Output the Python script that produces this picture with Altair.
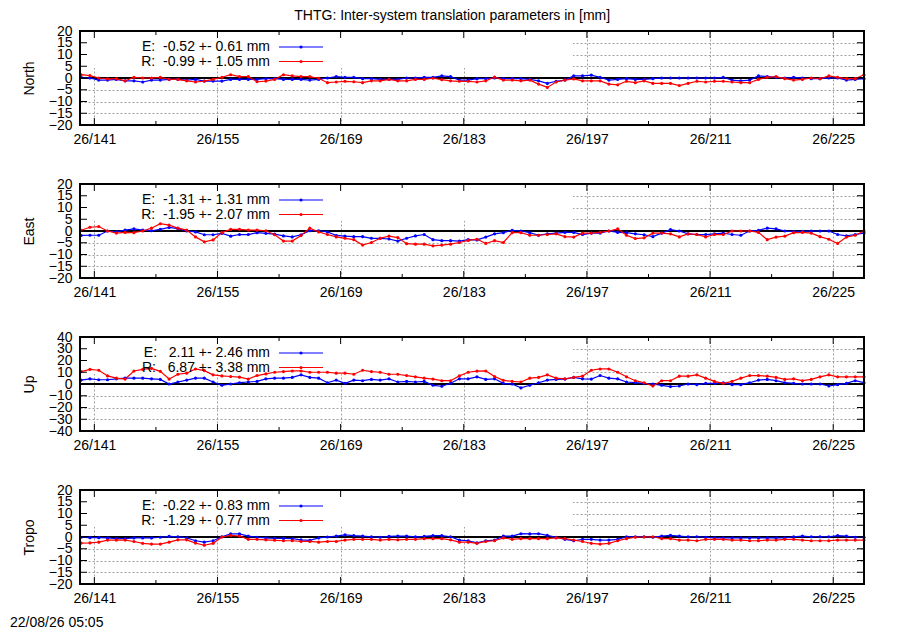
import altair as alt
import pandas as pd

# ---------------- data ----------------
DAYS = [139.5 + i for i in range(90)]  # one solution per day (day-of-year, 2026)

NORTH_E = [0.3, 0, -0.9, -0.9, -0.6, -1.2, -1.2, -1.7, -0.9, -0.9,
           -0.6, -0.6, -0.9, -0.6, -1.3, -1.3, -1.3, -0.6, -0.6, -0.6,
           -0.6, -0.3, -0.3, -0.6, -0.6, -0.6, -0.9, -0.6, 0, 0.6,
           0.3, 0.3, -0.3, -0.3, -0.6, -0.6, -0.6, 0, 0, 0.3,
           0.3, 0.9, 0.6, -0.9, -0.9, -0.3, -0.3, 0, -0.3, -0.3,
           -0.3, -0.6, -1.2, -2.3, -1.4, -0.9, 0.9, 0.9, 1.2, 0.3,
           -0.9, -0.6, -0.3, -0.6, -0.6, -0.3, 0, 0, 0, 0,
           0, 0, 0, 0.3, -0.9, -1.2, -0.9, 0.9, 0.6, 0.3,
           0, 0.3, 0, -0.3, -0.3, 0, 0, -0.9, -0.6, -0.3]
NORTH_R = [1.4, 1.0, 0, -0.4, -0.3, -1.2, 0.3, 0, 0, 0.3,
           -0.6, -0.6, -1.2, -1.7, -1.3, -0.6, 0.3, 1.4, 0.6, 0.6,
           -1.6, -1.3, -0.6, 1.4, 0.9, 0.6, 0.6, -0.1, -2.0, -1.7,
           -1.4, -1.6, -2.0, -1.2, -1.2, -0.6, -1.2, -1.2, -0.6, -0.6,
           -0.1, -0.7, -1.2, -1.4, -1.4, -1.7, -1.2, 0.4, -0.9, -0.9,
           -1.2, -0.9, -2.6, -4.0, -1.7, -0.9, -0.4, -1.2, -1.2, -1.2,
           -2.6, -2.9, -1.4, -2.0, -1.2, -2.3, -2.3, -2.3, -3.2, -2.3,
           -1.4, -1.7, -1.4, -1.4, -1.7, -2.0, -2.0, -0.6, 0.3, 0.6,
           -0.3, -0.9, -0.6, 0, -0.3, 0.9, 0.3, -0.3, -0.3, 1.4]

EAST_E = [-1.9, -1.8, -1.8, 0, -0.4, 0.4, 0.9, 0.4, 0.1, 0.7,
          1.5, 1.0, 0, -0.4, -1.6, -1.6, -1.0, -2.2, -1.5, -1.5,
          -0.7, -1.0, -1.3, -2.1, -2.5, -1.6, 0.1, 0.1, -0.4, -1.9,
          -2.2, -2.4, -2.4, -3.1, -3.1, -3.4, -4.3, -3.1, -2.1, -1.5,
          -3.7, -4.1, -4.1, -4.3, -3.7, -3.8, -2.6, -1.2, -0.7, 0.3,
          0, -0.7, -1.8, -1.2, -0.9, -0.6, -0.6, -1.5, -0.9, -0.9,
          0, -0.6, -0.7, -1.2, -1.6, -2.4, -0.9, 0.6, 0, -1.2,
          -1.5, -1.5, -1.2, -0.9, -1.5, -1.8, 0, 0.3, 1.2, 0.9,
          0, -0.3, -0.1, 0, 0, 0, -1.5, -2.1, -1.5, -0.9]
EAST_R = [0.3, 1.6, 1.9, 0, -0.9, -0.6, -0.7, 0, 1.2, 3.1,
          2.5, 1.2, 0.4, -2.5, -4.6, -3.8, -0.7, 0.7, 0.7, 0.4,
          0.4, 0.1, -1.6, -4.3, -4.3, -1.9, 1.2, -0.4, -1.5, -2.5,
          -3.1, -3.7, -6.0, -4.9, -3.1, -2.2, -2.8, -5.4, -5.6, -5.6,
          -6.3, -6.0, -5.6, -4.9, -4.0, -3.5, -5.3, -4.1, -4.9, -0.7,
          -0.7, -1.8, -1.8, -1.5, -1.2, -2.4, -2.6, -0.9, -0.9, -0.6,
          0, 0.9, -1.8, -3.2, -2.9, -0.9, -0.9, -1.2, -2.5, -1.2,
          -1.5, -2.5, -1.5, -1.5, 0, 0, 0, -0.6, -3.7, -2.6,
          -2.2, -0.7, -0.6, -0.9, -2.4, -3.5, -5.3, -2.6, -1.8, 0]

UP_E = [3.3, 4.4, 3.6, 3.6, 4.4, 5.0, 5.0, 5.0, 4.4, 3.9,
        0, 1.7, 3.3, 5.0, 5.0, 1.7, -1.1, 0, 1.1, 1.7,
        2.2, 4.4, 5.0, 5.0, 5.6, 7.8, 5.6, 5.0, 1.1, 3.3,
        0.6, 3.3, 2.8, 3.9, 3.3, 4.4, 1.7, 2.2, 1.7, 2.2,
        -1.1, -1.9, 0.6, 4.4, 4.4, 6.1, 3.9, 4.4, 0.6, 0,
        -3.3, -1.1, 1.1, 3.3, 3.9, 4.2, 5.6, 4.4, 4.2, 7.2,
        5.0, 4.4, 1.7, 1.1, 0.6, 0, -1.1, -2.2, -1.7, 0,
        -0.6, 0.6, 0.6, 1.1, -0.6, -0.6, 1.1, 3.3, 3.9, 2.8,
        1.1, 0.6, 0, 0, 0, -1.7, -0.6, 0.6, 2.8, 1.1]
UP_R = [10.6, 12.5, 11.7, 6.9, 5.0, 4.2, 11.1, 12.5, 13.3, 10.8,
        4.2, 8.3, 9.2, 12.8, 11.4, 7.8, 6.9, 6.4, 5.8, 4.2,
        7.2, 8.6, 10.0, 10.6, 11.1, 11.1, 10.0, 10.0, 10.0, 9.2,
        9.2, 8.3, 11.7, 10.6, 10.0, 8.3, 8.3, 7.2, 6.1, 5.0,
        4.2, 2.8, 2.8, 6.9, 10.0, 11.0, 11.1, 6.4, 3.1, 2.2,
        1.7, 5.0, 5.6, 7.8, 5.0, 4.4, 5.6, 6.7, 11.7, 12.8,
        12.8, 10.0, 6.1, 2.8, 1.1, -1.7, 2.8, 2.8, 6.7, 6.7,
        7.8, 5.0, 2.2, 0.6, 2.2, 5.0, 7.2, 7.2, 6.7, 5.6,
        3.9, 4.4, 2.8, 3.9, 6.1, 7.8, 6.1, 6.1, 6.1, 6.1]

TROPO_E = [-0.1, -0.3, -0.3, -0.4, -0.7, -0.7, -0.4, -0.4, -0.4, -0.1,
           0.3, 0.1, -0.4, -1.6, -2.2, -1.6, 0.1, 1.3, 1.3, 0.4,
           -0.1, -0.4, -0.6, -0.6, -0.7, -1.2, -1.4, -0.4, 0, 0.4,
           0.9, 0.6, 0.4, 0.1, -0.1, 0.3, 0.4, 0.4, 0.1, 0.3,
           0.6, 0.6, 0.1, -1.3, -1.6, -2.5, -1.6, -1.3, 0.4, 0.4,
           1.4, 1.3, 1.4, 0.7, -0.1, -1.0, -1.6, -1.0, -1.0, -1.3,
           -1.3, -1.0, 0.1, 0.1, 0.1, -0.1, 0.4, 0.7, 0.4, 0.1,
           0.1, -0.1, -0.4, -0.4, -0.4, -0.4, -0.4, -0.4, -0.4, -0.4,
           -0.4, 0.1, 0.4, 0.1, 0.1, 0.1, 0.6, 0.4, -0.1, -0.1]
TROPO_R = [-2.6, -2.5, -2.2, -1.3, -1.3, -1.3, -1.9, -2.7, -3.0, -3.0,
           -2.2, -1.2, -1.2, -2.6, -3.5, -2.7, 0, 0.7, 0.4, -1.0,
           -1.0, -1.2, -1.4, -1.6, -1.6, -1.9, -1.9, -2.2, -1.9, -1.9,
           -1.3, -1.0, -1.0, -1.0, -1.3, -1.0, -1.2, -1.0, -1.0, -0.7,
           -0.7, -0.7, -1.2, -2.2, -2.2, -2.7, -1.9, -1.6, -0.4, -1.0,
           -0.7, -0.7, -0.7, -0.7, -0.4, -0.7, -1.3, -1.9, -2.7, -3.0,
           -2.7, -1.6, -0.7, -0.1, 0, 0.1, -0.7, -0.7, -1.3, -1.3,
           -1.6, -1.0, -1.0, -1.0, -1.3, -1.3, -1.6, -1.6, -1.3, -1.3,
           -1.0, -1.0, -1.3, -1.6, -1.6, -1.6, -1.3, -1.3, -1.3, -1.3]

PANELS = ["North", "East", "Up", "Tropo"]
E_MEAN = [-0.52, -1.31, 2.11, -0.22]
E_RMS = [0.61, 1.31, 2.46, 0.83]
R_MEAN = [-0.99, -1.95, 6.87, -1.29]
R_RMS = [1.05, 2.07, 3.38, 0.77]
Y_LIMITS = [20, 20, 40, 20]
Y_STEPS = [5, 5, 10, 5]

X_TICKS = [141, 155, 169, 183, 197, 211, 225]
X_MINOR = [148, 162, 176, 190, 204, 218]
X_DOMAIN = [139.37, 228.5]

TITLE = "THTG: Inter-system translation parameters in [mm]"
STAMP = "22/08/26 05:05"

# ---------------- styling ----------------
FONT = "Liberation Sans"
W, H = 784, 94
BLUE, RED = "#0000ff", "#ff0000"
GRID = "#a0a0a0"


def key_text(label, mean, rms):
    return f"{label}: {mean:6.2f} +- {rms:.2f} mm".replace(" ", "\u00a0")


def one(**kw):
    return pd.DataFrame({k: [v] for k, v in kw.items()})


def panel(i, e_vals, r_vals, stamp=False):
    lim, step = Y_LIMITS[i], Y_STEPS[i]
    yticks = list(range(-lim, lim + 1, step))
    xs = alt.Scale(domain=X_DOMAIN, nice=False, zero=False)
    ys = alt.Scale(domain=[-lim, lim], nice=False, zero=False)

    df = pd.DataFrame({
        "day": DAYS + DAYS,
        "val": e_vals + r_vals,
        "series": ["E"] * len(DAYS) + ["R"] * len(DAYS),
    })

    x_axis = alt.Axis(values=X_TICKS, labelExpr="'26/' + datum.value",
                      grid=True, gridColor=GRID, gridDash=[2, 2], gridWidth=1,
                      ticks=False, tickSize=0, domain=False, labelPadding=7,
                      labelFlush=False, labelOverlap=False, title=None)
    y_axis = alt.Axis(values=yticks, grid=True, gridColor=GRID, gridDash=[2, 2],
                      gridWidth=1, ticks=False, tickSize=0, domain=False,
                      labelPadding=8, labelOverlap=False, labelFlush=False,
                      title=PANELS[i], titlePadding=12)

    def X(field="day"):
        return alt.X(f"{field}:Q", scale=xs, axis=x_axis, title=None)

    def Y(field="val"):
        return alt.Y(f"{field}:Q", scale=ys, axis=y_axis, title=PANELS[i])

    box = alt.Chart(one(k=0)).mark_rect(fill="white").encode(
        x=alt.value(0), x2=alt.value(493), y=alt.value(0), y2=alt.value(37))

    zero = alt.Chart(one(val=0)).mark_rule(color="black", strokeWidth=2).encode(
        y=Y())

    lines = alt.Chart(df).mark_line(
        strokeWidth=1.2,
        point=alt.OverlayMarkDef(filled=True, size=10, shape="circle"),
    ).encode(
        x=X(),
        y=Y(),
        color=alt.Color("series:N", scale=alt.Scale(domain=["E", "R"], range=[BLUE, RED]),
                        legend=None),
        order=alt.Order("day:Q"),
    )

    ydf = pd.DataFrame({"val": yticks})
    ytick_l = alt.Chart(ydf).mark_rule(color="black").encode(
        y=Y(), x=alt.value(0), x2=alt.value(7))
    ytick_r = alt.Chart(ydf).mark_rule(color="black").encode(
        y=Y(), x=alt.value(W - 7), x2=alt.value(W))

    xdf = pd.DataFrame({"day": X_TICKS})
    mdf = pd.DataFrame({"day": X_MINOR})
    xtick_b = alt.Chart(xdf).mark_rule(color="black").encode(
        x=X(), y=alt.value(H - 7), y2=alt.value(H))
    xtick_t = alt.Chart(xdf).mark_rule(color="black").encode(
        x=X(), y=alt.value(0), y2=alt.value(7))
    mtick_b = alt.Chart(mdf).mark_rule(color="black").encode(
        x=X(), y=alt.value(H - 4), y2=alt.value(H))
    mtick_t = alt.Chart(mdf).mark_rule(color="black").encode(
        x=X(), y=alt.value(0), y2=alt.value(4))

    layers = [box, zero, lines, ytick_l, ytick_r, xtick_b, xtick_t, mtick_b, mtick_t]

    for row, (lab, mean, rms, col) in enumerate([
        ("E", E_MEAN[i], E_RMS[i], BLUE),
        ("R", R_MEAN[i], R_RMS[i], RED),
    ]):
        yy = 16 + row * 14.5
        layers.append(alt.Chart(one(t=key_text(lab, mean, rms))).mark_text(
            align="right", baseline="middle", font=FONT, fontSize=14, color="black"
        ).encode(text="t:N", x=alt.value(190), y=alt.value(yy)))
        layers.append(alt.Chart(one(k=0)).mark_rule(color=col, strokeWidth=1.2).encode(
            x=alt.value(199), x2=alt.value(243), y=alt.value(yy)))
        layers.append(alt.Chart(one(k=0)).mark_point(
            filled=True, size=10, shape="circle", color=col, opacity=1
        ).encode(x=alt.value(221), y=alt.value(yy)))

    border = alt.Chart(one(k=0)).mark_rect(
        fill="white", fillOpacity=0, stroke="black", strokeWidth=2
    ).encode(x=alt.value(0), x2=alt.value(W), y=alt.value(0), y2=alt.value(H))
    layers.append(border)

    if stamp:
        layers.append(alt.Chart(one(t=STAMP)).mark_text(
            align="left", baseline="middle", font=FONT, fontSize=14, color="black"
        ).encode(text="t:N", x=alt.value(-70), y=alt.value(133)))

    return alt.layer(*layers).properties(width=W, height=H)


chart = alt.vconcat(
    panel(0, NORTH_E, NORTH_R),
    panel(1, EAST_E, EAST_R),
    panel(2, UP_E, UP_R),
    panel(3, TROPO_E, TROPO_R, stamp=True),
    spacing=31,
).properties(
    title=alt.TitleParams(TITLE, font=FONT, fontSize=14, fontWeight="normal",
                          anchor="middle", offset=1, dx=14, color="black"),
    padding={"left": 2, "top": 1, "right": 5, "bottom": 0},
).configure_axis(
    labelFont=FONT, labelFontSize=14, labelColor="black",
    titleFont=FONT, titleFontSize=14, titleFontWeight="normal", titleColor="black",
).configure_view(stroke=None)

chart.save("out.html", embed_options={"renderer": "svg", "actions": False})
